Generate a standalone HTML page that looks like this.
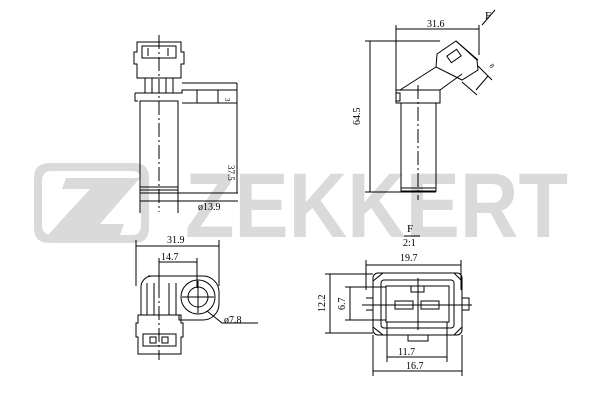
<!DOCTYPE html>
<html><head><meta charset="utf-8"><style>html,body{margin:0;padding:0;background:#fff}svg{display:block}</style></head><body>
<svg width="600" height="400" viewBox="0 0 600 400" xmlns="http://www.w3.org/2000/svg" font-family="'Liberation Serif',serif">
<!-- watermark -->
<g fill="#dadada">
<path d="M50,163 H134 Q149,163 149,178 V228 Q149,243 134,243 H50 Q34,243 34,228 V178 Q34,163 50,163 Z M52,171 Q42,171 42,181 V225 Q42,235 52,235 H132 Q141,235 141,225 V181 Q141,171 132,171 Z" fill-rule="evenodd"/>
<polygon points="66,178 140,178 100,224 124,224 120,235 48,235 90,189 62,189"/>
<text x="185" y="237" font-family="'Liberation Sans',sans-serif" font-weight="bold" font-size="92" textLength="383" lengthAdjust="spacingAndGlyphs">ZEKKERT</text>
</g>
<g stroke="#000" stroke-width="1" fill="none">
<!-- View 1 -->
<line x1="159" y1="35" x2="159" y2="212" stroke-dasharray="14,3,2,3"/>
<path d="M137,42 h44 v10 h3 v12 h-3 v14 h-44 v-14 h-3 v-12 h3 z"/>
<path d="M142,46 h34 v12 h-34 z M148,48 v8 M168,48 v8"/>
<path d="M145,78 v15 M152,78 v15 M166,78 v15 M173,78 v15"/>
<path d="M135,93 h47 v-3 h55 v13 h-55 M135,93 v8 h3"/>
<path d="M197,90 v13 M218,90 v13"/>
<rect x="140" y="101" width="38" height="92"/>
<path d="M140,187 h38 M140,190 h38"/>
<path d="M182,83 h55 M237,83 v110 M178,193 h60"/>
<path d="M140,190 v23 M178,190 v23 M140,201 h98"/>
<!-- View 2 -->
<line x1="418" y1="85" x2="418" y2="200" stroke-dasharray="14,3,2,3"/>
<rect x="396" y="90" width="44" height="13"/>
<path d="M396,93 h4 v8 h-4"/>
<rect x="401" y="103" width="35" height="88"/>
<path d="M401,188 h35"/>
<path d="M400,90 L436,67 M440,90 L462,74"/>
<path d="M436,67 L437,54 L456,41 L477,60 L478,70 L462,80 Z"/>
<path d="M456,41 L478,60"/>
<rect x="448" y="52" width="12" height="8" transform="rotate(-35 454 56)"/>
<path d="M478,66 L492,80 M462,82 L477,95 M488,76 L476,90"/>
<path d="M495,10 L482,25"/>
<path d="M396,90 V25 M479,55 V25 M396,29 H479"/>
<path d="M365,41 H440 M370,41 V192 M365,192 H436"/>
<!-- View 3 -->
<path d="M136,240 v46 M219,240 v46 M136,246 h83"/>
<path d="M159,258 v30 M197,258 v30 M159,262 h38"/>
<path d="M148,276 h55 a16,16 0 0 1 16,16 v12 a16,16 0 0 1 -16,16 h-24 v-5 h-38 v-28 a11,11 0 0 1 11,-11 z"/>
<circle cx="198" cy="297" r="17"/>
<circle cx="198" cy="297" r="10"/>
<path d="M182,297 h32 M198,281 v32"/>
<path d="M147,283 v32 M154,283 v32 M169,283 v32 M176,283 v32"/>
<line x1="159" y1="262" x2="159" y2="360" stroke-dasharray="14,3,2,3"/>
<path d="M138,315 h43 v8 h2 v14 h-2 v17 h-43 v-17 h-2 v-14 h2 z"/>
<path d="M143,334 h33 v12 h-33 z M150,337 h6 v6 h-6 z M162,337 h6 v6 h-6 z"/>
<path d="M207,311 L222,323 H258"/>
<!-- View 4 -->
<path d="M366,260 v30 M461,260 v30 M366,265 h95"/>
<rect x="373" y="273" width="89" height="62" rx="5"/>
<rect x="381" y="280" width="73" height="48" rx="3"/>
<rect x="386" y="286" width="63" height="36"/>
<path d="M373,281 L383,273 M454,273 L462,281 M373,327 L383,335 M454,335 L462,327"/>
<path d="M366,298 h7 v12 h-7 M462,298 h7 v12 h-7"/>
<path d="M408,335 v6 h20 v-6 M411,286 v6 h13 v-6"/>
<rect x="395" y="301" width="18" height="8"/>
<rect x="421" y="301" width="18" height="8"/>
<path d="M362,305 H472 M418,278 V330"/>
<path d="M325,274 H373 M325,333 H373 M330,274 V333"/>
<path d="M345,287 H386 M345,320 H386 M350,287 V320"/>
<path d="M387,322 V362 M447,322 V362 M387,357 H447"/>
<path d="M373,335 V376 M462,335 V376 M373,371 H462"/>
<path d="M404,236 H420"/>
</g>
<g font-size="10" fill="#000">
<text x="198" y="210">ø13.9</text>
<text x="228" y="165" transform="rotate(90 228 165)" font-size="9">37.5</text>
<text x="225" y="98" transform="rotate(90 225 98)" font-size="7">3</text>
<text x="427" y="27">31.6</text>
<text x="485" y="19" font-size="11">F</text>
<text x="360" y="125" transform="rotate(-90 360 125)">64.5</text>
<text x="489" y="66" transform="rotate(50 489 66)" font-size="7">8</text>
<text x="167" y="243">31.9</text>
<text x="161" y="260">14.7</text>
<text x="224" y="323">ø7.8</text>
<text x="407" y="232" font-size="11">F</text>
<text x="403" y="246">2:1</text>
<text x="400" y="261">19.7</text>
<text x="325" y="312" transform="rotate(-90 325 312)">12.2</text>
<text x="345" y="310" transform="rotate(-90 345 310)">6.7</text>
<text x="398" y="355">11.7</text>
<text x="406" y="369">16.7</text>
</g>
</svg>
</body></html>
